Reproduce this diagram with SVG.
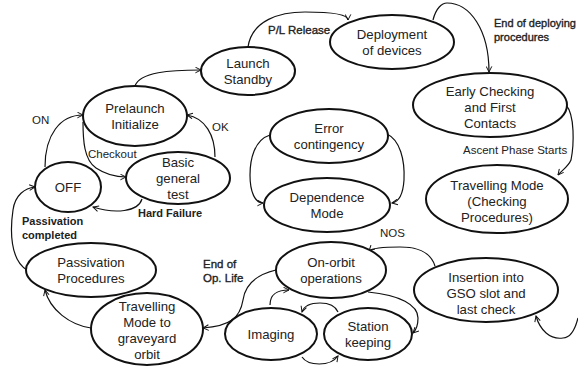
<svg xmlns="http://www.w3.org/2000/svg" width="578" height="369" viewBox="0 0 578 369">
  <defs>
    <marker id="arr" viewBox="0 0 10 10" refX="9" refY="5" markerWidth="7" markerHeight="7" orient="auto" markerUnits="userSpaceOnUse">
      <path d="M1,1 L9,5 L1,9" fill="none" stroke="#111" stroke-width="1.4"/>
    </marker>
  </defs>
  <style>
    .st ellipse { fill: #fff; stroke: #111; stroke-width: 2; }
    .st text { font-family: "Liberation Sans", Arial, sans-serif; font-size: 13.2px; fill: #222; text-anchor: middle; }
    .cn path { fill: none; stroke: #111; stroke-width: 1.2; }
    .cn .a { marker-end: url(#arr); }
    .lb { font-family: "Liberation Sans", Arial, sans-serif; font-size: 11.5px; fill: #222; }
    .sb { stroke: #222; stroke-width: 0.35; }
    .sm { font-size: 11px; }
    .b { font-weight: bold; font-size: 11px; }
  </style>
  <rect width="578" height="369" fill="#fff"/>

  <!-- transitions -->
  <g id="connectors" class="cn">
    <path class="a" d="M45,167 C45,135 60,115 83,115"/>
    <path class="a" d="M83,122 C83,140 84,160 96,168 C105,174 115,177 126,177"/>
    <path class="a" d="M215,157 C215,135 205,118 187,115"/>
    <path class="a" d="M142,199 C138,212 115,214 93,207"/>
    <path class="a" d="M135,86 C140,72 170,70 201,70"/>
    <path class="a" d="M248,47 C252,20 280,12 305,12 C330,12 348,14 348,20"/>
    <path class="a" d="M433,20 C436,8 442,3 447,3 C470,3 489,30 489,72"/>
    <path class="a" d="M566,105 C575,115 574,145 571,160 C568,167 562,170 558,175"/>
    <path class="a" d="M270,135 C254,140 250,160 250,175 C250,192 255,203 263,203"/>
    <path class="a" d="M387,134 C400,140 405,160 404,180 C403,195 398,202 392,203"/>
    <path class="a" d="M435,266 C430,250 415,247 400,247 C385,247 372,248 369,251"/>
    <path class="a" d="M578,318 C575,330 570,338 563,338 C550,340 540,330 536,316"/>
    <path class="a" d="M276,270 C255,275 245,285 243,300 C240,318 230,326 203,328"/>
    <path class="a" d="M91,328 C70,325 50,310 45,290"/>
    <path class="a" d="M27,270 C10,260 10,230 13,210 C15,195 25,188 35,187"/>
    <path class="a" d="M270,305 C270,293 278,290 289,290"/>
    <path class="a" d="M368,292 C400,295 418,305 418,318 C418,325 416,330 413,333"/>
    <path class="a" d="M338,312 C335,305 328,303 320,303 C310,303 304,306 302,312"/>
    <path class="a" d="M302,357 C308,366 330,367 338,356"/>
  </g>

  <!-- transition labels -->
  <g id="labels">
    <text class="lb" x="32" y="124">ON</text>
    <text class="lb" x="88" y="158">Checkout</text>
    <text class="lb" x="212" y="131">OK</text>
    <text class="lb b" x="138" y="217">Hard Failure</text>
    <text class="lb sb" x="268" y="34">P/L Release</text>
    <text class="lb sb sm" x="494" y="27">End of deploying</text>
    <text class="lb sb sm" x="494" y="41">procedures</text>
    <text class="lb" x="463" y="154">Ascent Phase Starts</text>
    <text class="lb" x="380" y="237">NOS</text>
    <text class="lb sb" x="203" y="268">End of</text>
    <text class="lb sb" x="203" y="282">Op. Life</text>
    <text class="lb b" x="22" y="225">Passivation</text>
    <text class="lb b" x="22" y="239">completed</text>
  </g>

  <!-- states -->
  <g id="launch-standby" class="st">
    <ellipse cx="248" cy="71" rx="47" ry="24"/>
    <text x="248" y="68">Launch</text>
    <text x="248" y="84">Standby</text>
  </g>
  <g id="deployment" class="st">
    <ellipse cx="392" cy="42" rx="62" ry="27"/>
    <text x="392" y="39">Deployment</text>
    <text x="392" y="55">of devices</text>
  </g>
  <g id="early-checking" class="st">
    <ellipse cx="490" cy="105" rx="77" ry="32"/>
    <text x="490" y="96">Early Checking</text>
    <text x="490" y="112">and First</text>
    <text x="490" y="128">Contacts</text>
  </g>
  <g id="travelling-checking" class="st">
    <ellipse cx="497" cy="199" rx="71" ry="34"/>
    <text x="497" y="190">Travelling Mode</text>
    <text x="497" y="206">(Checking</text>
    <text x="497" y="222">Procedures)</text>
  </g>
  <g id="insertion" class="st">
    <ellipse cx="486" cy="290" rx="72" ry="32"/>
    <text x="486" y="282">Insertion into</text>
    <text x="486" y="298">GSO slot and</text>
    <text x="486" y="314">last check</text>
  </g>
  <g id="on-orbit" class="st">
    <ellipse cx="331" cy="270" rx="55" ry="28"/>
    <text x="331" y="267">On-orbit</text>
    <text x="331" y="283">operations</text>
  </g>
  <g id="station-keeping" class="st">
    <ellipse cx="368" cy="334" rx="44" ry="26"/>
    <text x="368" y="331">Station</text>
    <text x="368" y="347">keeping</text>
  </g>
  <g id="imaging" class="st">
    <ellipse cx="271" cy="334" rx="46" ry="26"/>
    <text x="271" y="339">Imaging</text>
  </g>
  <g id="travelling-graveyard" class="st">
    <ellipse cx="147" cy="329" rx="56" ry="36"/>
    <text x="147" y="311">Travelling</text>
    <text x="147" y="327">Mode to</text>
    <text x="147" y="343">graveyard</text>
    <text x="147" y="359">orbit</text>
  </g>
  <g id="passivation" class="st">
    <ellipse cx="91" cy="270" rx="65" ry="27"/>
    <text x="91" y="267">Passivation</text>
    <text x="91" y="283">Procedures</text>
  </g>
  <g id="off" class="st">
    <ellipse cx="68" cy="187" rx="33" ry="25"/>
    <text x="68" y="192">OFF</text>
  </g>
  <g id="basic-test" class="st">
    <ellipse cx="178" cy="178" rx="52" ry="26"/>
    <text x="178" y="167">Basic</text>
    <text x="178" y="183">general</text>
    <text x="178" y="199">test</text>
  </g>
  <g id="prelaunch" class="st">
    <ellipse cx="135" cy="116" rx="52" ry="30"/>
    <text x="135" y="113">Prelaunch</text>
    <text x="135" y="129">Initialize</text>
  </g>
  <g id="error-contingency" class="st">
    <ellipse cx="329" cy="136" rx="59" ry="27"/>
    <text x="329" y="133">Error</text>
    <text x="329" y="149">contingency</text>
  </g>
  <g id="dependence" class="st">
    <ellipse cx="327" cy="205" rx="63" ry="27"/>
    <text x="327" y="202">Dependence</text>
    <text x="327" y="218">Mode</text>
  </g>
</svg>
